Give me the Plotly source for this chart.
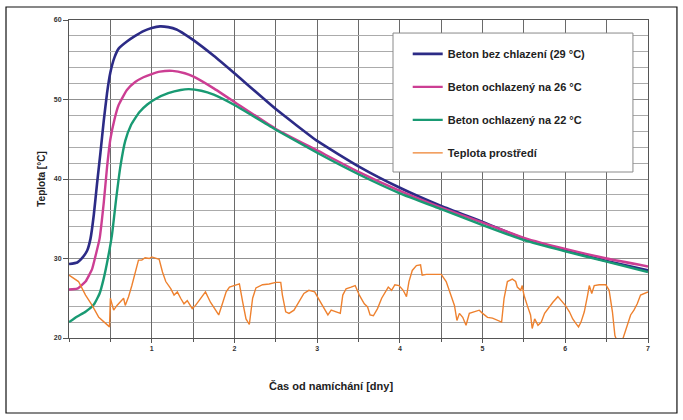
import plotly.graph_objects as go

# ---- data ----
days_blue = [0, 0.1, 0.17, 0.22, 0.26, 0.3, 0.34, 0.38, 0.42, 0.46, 0.5, 0.55, 0.6, 0.7, 0.8, 0.9,
             1.0, 1.1, 1.2, 1.3, 1.4, 1.5, 1.75, 2.0, 2.5, 3.0, 3.5, 4.0, 4.5, 5.0, 5.5, 6.0, 6.5, 7.0]
temp_blue = [29.3, 29.5, 30.2, 31.0, 32.5, 35.5, 39.5, 43.3, 47.3, 50.8, 53.4, 55.3, 56.4, 57.3, 58.0, 58.6,
             59.0, 59.2, 59.1, 58.8, 58.2, 57.5, 55.5, 53.3, 48.8, 44.8, 41.6, 38.9, 36.6, 34.6, 32.5, 31.0, 29.7, 28.5]

days_pink = [0, 0.1, 0.2, 0.28, 0.32, 0.37, 0.42, 0.46, 0.5, 0.55, 0.6, 0.7, 0.8, 0.9,
             1.0, 1.1, 1.25, 1.4, 1.5, 1.75, 2.0, 2.5, 3.0, 3.5, 4.0, 4.5, 5.0, 5.5, 6.0, 6.5, 7.0]
temp_pink = [26.1, 26.2, 27.1, 28.7, 30.3, 32.5, 37.0, 41.5, 45.0, 47.5, 49.3, 51.2, 52.2, 52.8,
             53.2, 53.5, 53.6, 53.3, 52.9, 51.4, 49.7, 46.3, 43.6, 40.9, 38.5, 36.4, 34.5, 32.6, 31.2, 30.0, 29.0]

days_green = [0, 0.1, 0.2, 0.3, 0.37, 0.42, 0.47, 0.52, 0.57, 0.62, 0.68, 0.75, 0.85, 0.95,
              1.05, 1.2, 1.35, 1.45, 1.6, 1.75, 2.0, 2.5, 3.0, 3.5, 4.0, 4.5, 5.0, 5.5, 6.0, 6.5, 7.0]
temp_green = [22.0, 22.7, 23.3, 24.2, 25.6, 27.5, 30.0, 33.0, 37.5, 41.5, 44.8, 46.8, 48.4, 49.4,
              50.1, 50.8, 51.2, 51.3, 51.1, 50.6, 49.3, 46.2, 43.3, 40.6, 38.2, 36.2, 34.2, 32.3, 30.9, 29.6, 28.3]

days_env = [0, 0.115, 0.2, 0.28, 0.36, 0.44, 0.49, 0.5, 0.54, 0.58, 0.62, 0.66, 0.68, 0.72, 0.76, 0.8,
            0.84, 0.88, 0.92, 0.97, 1.0, 1.09, 1.13, 1.17, 1.23, 1.27, 1.31, 1.35, 1.39, 1.43, 1.49,
            1.53, 1.57, 1.61, 1.65, 1.71, 1.78, 1.81, 1.86, 1.9, 1.94, 2.0, 2.06, 2.1, 2.14, 2.18,
            2.22, 2.26, 2.34, 2.42, 2.5, 2.56, 2.58, 2.62, 2.66, 2.72, 2.78, 2.84, 2.9, 2.97, 3.03,
            3.09, 3.13, 3.17, 3.23, 3.28, 3.31, 3.35, 3.41, 3.46, 3.51, 3.57, 3.61, 3.64, 3.68, 3.73,
            3.78, 3.82, 3.86, 3.9, 3.94, 3.99, 4.04, 4.08, 4.11, 4.15, 4.2, 4.25, 4.27, 4.32, 4.4,
            4.5, 4.56, 4.62, 4.66, 4.69, 4.72, 4.76, 4.8, 4.84, 4.9, 4.96, 5.0, 5.06, 5.12, 5.18,
            5.23, 5.26, 5.3, 5.36, 5.4, 5.42, 5.46, 5.48, 5.5, 5.54, 5.58, 5.6, 5.63, 5.67, 5.71,
            5.75, 5.79, 5.85, 5.91, 5.95, 6.0, 6.05, 6.09, 6.13, 6.16, 6.19, 6.23, 6.27, 6.29, 6.32,
            6.35, 6.41, 6.49, 6.53, 6.57, 6.6, 6.63, 6.69, 6.73, 6.79, 6.83, 6.87, 6.91, 6.96, 7.0]
temp_env = [27.9, 27.1, 25.4, 24.1, 22.6, 21.8, 21.4, 25.0, 23.5, 24.1, 24.5, 25.0, 24.1, 25.2, 26.6, 28.3,
            29.8, 29.8, 30.1, 30.0, 30.2, 29.9, 28.3, 27.1, 26.2, 25.4, 25.8, 25.0, 24.3, 24.7, 23.7,
            24.1, 24.7, 25.2, 25.8, 24.5, 23.3, 22.9, 24.5, 25.8, 26.4, 26.6, 26.8, 24.5, 22.4, 21.7,
            25.0, 26.3, 26.7, 26.8, 27.0, 27.0, 25.4, 23.3, 23.1, 23.5, 24.5, 25.6, 26.0, 25.8, 24.7,
            23.7, 22.9, 23.5, 23.3, 23.1, 25.4, 26.2, 26.4, 26.6, 25.4, 24.3, 23.9, 22.9, 22.8, 23.7,
            25.0, 25.8, 26.4, 26.0, 26.7, 26.6, 26.0, 25.2, 27.1, 28.5, 29.1, 29.2, 27.9, 28.0, 28.0,
            28.0, 27.1, 25.4, 24.1, 22.2, 23.1, 22.6, 21.6, 23.1, 23.3, 23.5, 23.1, 22.6, 22.5, 22.2,
            22.0, 25.0, 27.1, 27.4, 27.1, 26.4, 26.0, 26.6, 25.4, 24.1, 22.9, 21.2, 22.4, 21.6, 22.0,
            23.1, 23.7, 24.5, 25.2, 24.7, 24.1, 23.3, 22.4, 21.8, 21.4, 22.0, 23.3, 25.4, 26.6, 25.6,
            26.6, 26.7, 26.7, 26.0, 23.3, 20.3, 19.5, 19.7, 21.0, 22.9, 23.5, 24.3, 25.4, 25.6, 25.8]

series_names = ["Beton bez chlazení (29 °C)", "Beton ochlazený na 26 °C",
                "Beton ochlazený na 22 °C", "Teplota prostředí"]
x_ticks = [1, 2, 3, 4, 5, 6, 7]
y_ticks = [20, 30, 40, 50, 60]

FONT = "Arial, Liberation Sans, sans-serif"

fig = go.Figure()
styles = [
    (days_blue, temp_blue, "#2C2B86", 2.6, "spline"),
    (days_pink, temp_pink, "#CC3E93", 2.4, "spline"),
    (days_green, temp_green, "#199A73", 2.4, "spline"),
    (days_env, temp_env, "#EE812E", 1.4, "linear"),
]
for i, (xs, ys, col, w, shp) in enumerate(styles):
    fig.add_trace(go.Scatter(
        x=xs, y=ys, mode="lines", name=series_names[i], legendgroup=f"g{i}",
        line=dict(color=col, width=w, shape=shp, smoothing=0.4 if shp == "spline" else None),
    ))

fig.update_layout(
    width=683, height=420,
    margin=dict(l=69, r=35, t=20, b=82),
    paper_bgcolor="white", plot_bgcolor="white",
    font=dict(family=FONT, color="#222"),
    showlegend=True,
    legend=dict(
        x=0.585, y=0.939, xanchor="left", yanchor="top",
        bgcolor="rgba(0,0,0,0)", borderwidth=0,
        font=dict(size=11, family=FONT, color="#222", weight="bold"),
        tracegroupgap=14, itemwidth=30,
    ),
    shapes=[
        dict(type="rect", xref="paper", yref="paper", x0=-0.1088, x1=1.050, y0=-0.2358, y1=1.0409,
             line=dict(color="#111", width=1.2), fillcolor="rgba(0,0,0,0)", layer="above"),
        dict(type="rect", xref="paper", yref="paper", x0=0.5596, x1=0.974, y0=0.522, y1=0.959,
             line=dict(color="#8a8a8a", width=1), fillcolor="white", layer="above"),
    ],
    annotations=[
        dict(text="Čas od namíchání [dny]", xref="paper", yref="paper", x=0.4525, y=-0.15,
             xanchor="center", yanchor="middle", showarrow=False,
             font=dict(size=11, family=FONT, color="#222", weight="bold")),
    ],
)

fig.update_xaxes(
    range=[0, 7], tickvals=x_ticks, ticktext=[str(v) for v in x_ticks],
    showgrid=True, gridcolor="#6a6a6a", gridwidth=1,
    showline=True, linecolor="#555", linewidth=1, mirror=True,
    ticks="outside", ticklen=4, tickcolor="#555",
    tickfont=dict(size=7, family=FONT, color="#333", weight="bold"),
    minor=dict(dtick=0.5, showgrid=True, gridcolor="#6a6a6a", ticks="outside", ticklen=3, tickcolor="#555"),
    zeroline=False,
)
fig.update_yaxes(
    range=[20, 60], tickvals=y_ticks, ticktext=[str(v) for v in y_ticks],
    showgrid=True, gridcolor="#909090", gridwidth=1,
    showline=True, linecolor="#555", linewidth=1, mirror=True,
    ticks="outside", ticklen=5, tickcolor="#555",
    tickfont=dict(size=7, family=FONT, color="#333", weight="bold"),
    minor=dict(dtick=2, showgrid=True, gridcolor="#ababab"),
    title=dict(text="Teplota [°C]", standoff=6,
               font=dict(size=10, family=FONT, color="#222", weight="bold")),
    zeroline=False,
)

fig.write_html("out.html", config={"displayModeBar": False})
